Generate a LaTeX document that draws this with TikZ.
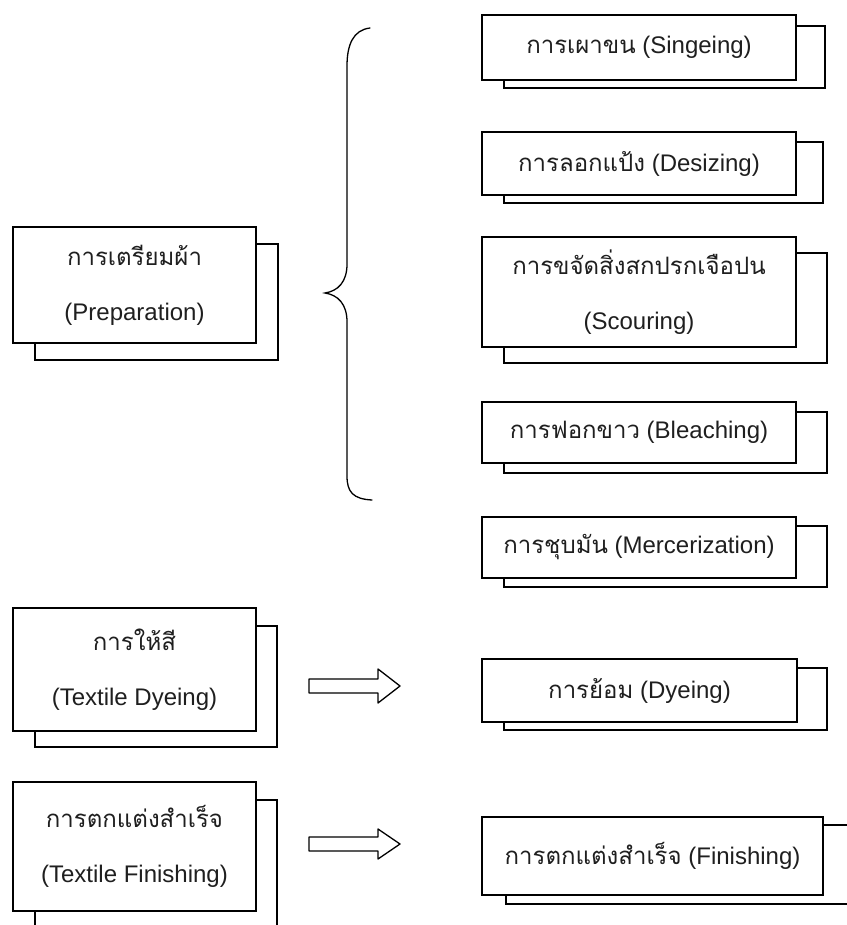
\documentclass[tikz,border=0pt]{standalone}
\usepackage{fontspec}
\setmainfont{Liberation Sans}
\newfontfamily\thaifont[Script=Thai]{Loma}
\newcommand\tha[1]{{\thaifont #1}}
\begin{document}
\begin{tikzpicture}[x=1pt,y=-1pt,line width=1.3pt,
  front/.style={draw, fill=white, inner sep=0pt, align=center,
    font=\fontsize{24}{55}\selectfont, text=black!88},
  back/.style={draw, fill=white},
  blockarrow/.style={draw, line join=round}]
\useasboundingbox (0,0) rectangle (846,925);

% ---- left column ----
\draw[back] (35,244) rectangle (278,360);
\node[front, minimum width=243, minimum height=116] (prep) at (134.5,285)
  {\tha{การเตรียมผ้า}\\(Preparation)};

\draw[back] (35,626) rectangle (277,747);
\node[front, minimum width=243, minimum height=123] (dye) at (134.5,669.5)
  {\tha{การให้สี}\\(Textile Dyeing)};

\draw[back] (35,800) rectangle (277,945);
\node[front, minimum width=243, minimum height=129] (fin) at (134.5,846.5)
  {\tha{การตกแต่งสำเร็จ}\\(Textile Finishing)};

% ---- right column ----
\draw[back] (504,26) rectangle (825,88);
\node[front, minimum width=314, minimum height=65] (sing) at (639,47.5)
  {\tha{การเผาขน} (Singeing)};

\draw[back] (504,142) rectangle (823,203);
\node[front, minimum width=314, minimum height=63] (desz) at (639,163.5)
  {\tha{การลอกแป้ง} (Desizing)};

\draw[back] (504,253) rectangle (827,363);
\node[front, minimum width=314, minimum height=110] (scour) at (639,292)
  {\tha{การขจัดสิ่งสกปรกเจือปน}\\(Scouring)};

\draw[back] (504,412) rectangle (827,473);
\node[front, minimum width=314, minimum height=61] (bleach) at (639,432.5)
  {\tha{การฟอกขาว} (Bleaching)};

\draw[back] (504,526) rectangle (827,587);
\node[front, minimum width=314, minimum height=61] (merc) at (639,547.5)
  {\tha{การชุบมัน} (Mercerization)};

\draw[back] (504,668) rectangle (827,730);
\node[front, minimum width=315, minimum height=63] (rdye) at (639.5,690.5)
  {\tha{การย้อม} (Dyeing)};

\draw[back] (506,825) rectangle (870,904);
\node[front, minimum width=341, minimum height=78] (rfin) at (652.5,856)
  {\tha{การตกแต่งสำเร็จ} (Finishing)};

% ---- brace ----
\draw[line cap=round] (370,28) .. controls (353,30) and (347,45) .. (347,66)
  -- (347,264) .. controls (347,282) and (338,291) .. (325,293)
  .. controls (338,295) and (347,304) .. (347,322)
  -- (347,476) .. controls (347,492) and (353,499) .. (372,500);

% ---- block arrows ----
\coordinate (a1) at (309,686);
\coordinate (a2) at (309,844);
\draw[blockarrow] (a1) ++(0,-7) -- ++(69,0) -- ++(0,-10) -- ++(22,17)
  -- ++(-22,17) -- ++(0,-10) -- ++(-69,0) -- cycle;
\draw[blockarrow] (a2) ++(0,-7) -- ++(69,0) -- ++(0,-8) -- ++(22,15)
  -- ++(-22,15) -- ++(0,-8) -- ++(-69,0) -- cycle;
\end{tikzpicture}
\end{document}
